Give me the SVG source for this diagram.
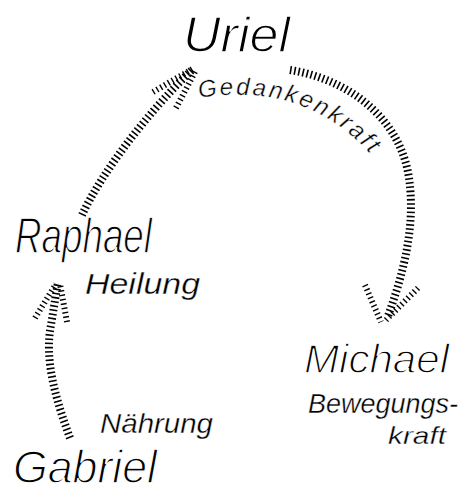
<svg xmlns="http://www.w3.org/2000/svg" width="459" height="499" viewBox="0 0 459 499">
<style>
.name{font-family:"Liberation Sans","DejaVu Sans",sans-serif;font-style:italic;fill:#000;stroke:#fff;stroke-width:1.3}
.small{stroke-width:0.35}
.hatch{fill:none;stroke:#000;stroke-width:8;stroke-dasharray:1.6 2.6}
.thin{fill:none;stroke:#000;stroke-width:6;stroke-dasharray:1.4 3}
</style>
<rect width="459" height="499" fill="#fff"/>
<defs>
<path id="gkPath" d="M199,98 C262,88 332,98 388,176"/>
</defs>
<g id="connectors">
<g id="gabriel-raphael">
<path class="hatch" d="M70,438 C56,400 44,360 51,325 L58,282"/>
<path class="thin" d="M35,318 L56,284"/>
<path class="thin" d="M67,322 L60,284"/>
</g>
<g id="raphael-uriel">
<path class="hatch" d="M82,215 C102,172 148,112 192,70"/>
<path class="thin" d="M153,92 L194,68"/>
<path class="thin" d="M176,108 L196,70"/>
</g>
<g id="uriel-michael">
<path class="hatch" d="M290,70 C342,78 396,112 408,172 C417,222 404,272 388,316"/>
<path class="thin" d="M365,285 L381,322"/>
<path class="thin" d="M418,288 L386,320"/>
</g>
</g>
<g id="uriel">
<text class="name" x="183" y="52" font-size="50" textLength="107" lengthAdjust="spacingAndGlyphs">Uriel</text>
<text class="name small" font-size="24" letter-spacing="2.6"><textPath href="#gkPath">Gedankenkraft</textPath></text>
</g>
<g id="raphael">
<text class="name" x="15" y="253" font-size="50" textLength="137" lengthAdjust="spacingAndGlyphs">Raphael</text>
<text class="name small" x="85" y="294" font-size="30" textLength="115" lengthAdjust="spacingAndGlyphs">Heilung</text>
</g>
<g id="michael">
<text class="name" x="304" y="373" font-size="40" textLength="145" lengthAdjust="spacingAndGlyphs">Michael</text>
<text class="name small" x="308" y="413" font-size="27" textLength="150" lengthAdjust="spacingAndGlyphs">Bewegungs-</text>
<text class="name small" x="388" y="444" font-size="24" textLength="58" lengthAdjust="spacingAndGlyphs">kraft</text>
</g>
<g id="gabriel">
<text class="name small" x="100" y="433" font-size="28" textLength="113" lengthAdjust="spacingAndGlyphs">Nährung</text>
<text class="name" x="13" y="483" font-size="46" textLength="144" lengthAdjust="spacingAndGlyphs">Gabriel</text>
</g>
</svg>
